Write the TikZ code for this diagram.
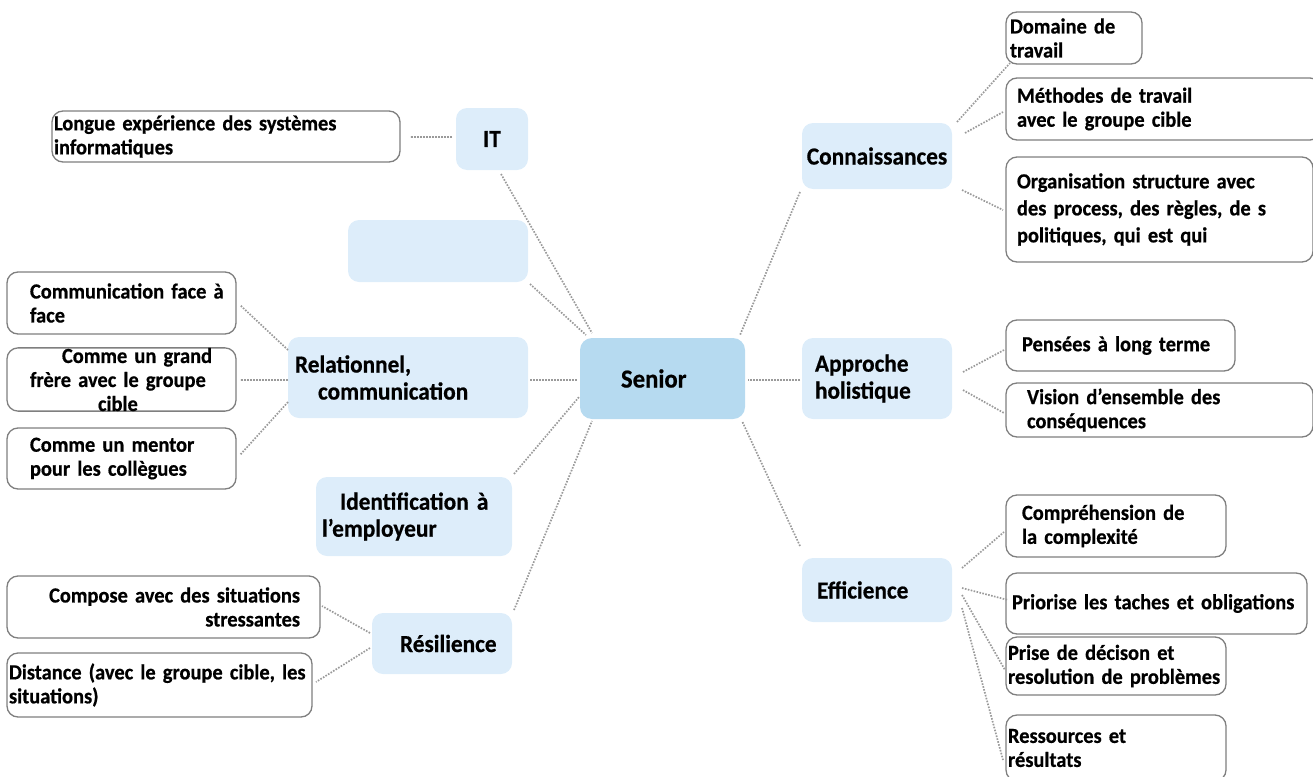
\documentclass[tikz,border=0pt]{standalone}
\usepackage{fontspec}
\setmainfont{Carlito}[FakeStretch=0.95,WordSpace=0.8,BoldFeatures={FakeBold=0.6}]
\usetikzlibrary{calc}
\definecolor{lblue}{HTML}{DDEDFA}
\definecolor{sblue}{HTML}{B6DAF0}
\definecolor{bgray}{HTML}{7F7F7F}
\definecolor{lgray}{HTML}{9A9A9A}
\newcommand{\ml}[1]{\mbox{#1}}
\begin{document}
\begin{tikzpicture}[x=1pt,y=-1pt,
  bluebox/.style={fill=lblue,draw=none,rounded corners=11pt,font=\fontsize{24.5}{27}\selectfont\bfseries,inner sep=0pt},
  seniorbox/.style={fill=sblue,draw=none,rounded corners=12pt,font=\fontsize{26}{30}\selectfont\bfseries,inner sep=0pt},
  wbox/.style={draw=bgray,line width=1.3pt,fill=white,rounded corners=11pt,font=\fontsize{21.5}{24}\selectfont\bfseries,inner ysep=0pt},
  link/.style={draw=lgray,line width=1.7pt,dash pattern=on 1.6pt off 1.4pt}]
\useasboundingbox (0,0) rectangle (1313,776);
% central and first-level nodes
\node[seniorbox,minimum width=165pt,minimum height=81pt,text width=125pt,align=left,inner xsep=20pt] (senior) at (662.5,378.5) {\hspace*{21pt}Senior};
\node[bluebox,minimum width=72pt,minimum height=62pt] (it) at (492,139) {IT};
\node[bluebox,minimum width=180pt,minimum height=62pt] (empty) at (438,251) {};
\node[bluebox,minimum width=240pt,minimum height=81pt,text width=226pt,align=left,inner xsep=7pt] (rel) at (408,377.5) {Relationnel,\\\hspace*{23pt}communication};
\node[bluebox,minimum width=196pt,minimum height=79pt,text width=184pt,align=left,inner xsep=6pt] (ident) at (414,516.5) {\hspace*{18pt}Identification à\\l’employeur};
\node[bluebox,minimum width=140pt,minimum height=61pt,text width=120pt,align=left,inner xsep=10pt] (res) at (442,643.5) {\hspace*{18pt}Résilience};
\node[bluebox,minimum width=150pt,minimum height=66pt] (conn) at (877,156) {Connaissances};
\node[bluebox,minimum width=150pt,minimum height=81pt,text width=124pt,align=left,inner xsep=13pt] (appr) at (877,378.5) {Approche\\holistique};
\node[bluebox,minimum width=150pt,minimum height=64pt,text width=120pt,align=left,inner xsep=15pt] (eff) at (877,590) {Efficience};
% leaf boxes
\node[wbox,minimum width=348pt,minimum height=51pt,inner xsep=2pt,text width=344pt,align=left] (longue) at (226,136.5) {\ml{Longue expérience des systèmes}\\informatiques};
\node[wbox,minimum width=229pt,minimum height=62pt,inner xsep=23pt,text width=183pt,align=left] (face) at (121.5,303) {\ml{Communication face à}\\face};
\node[wbox,minimum width=229pt,minimum height=63pt,inner xsep=23pt,text width=183pt,align=left] (frere) at (121.5,379.5) {\ml{\hspace*{32pt}Comme un grand}\\\ml{frère avec le groupe}\\\hspace*{68pt}cible};
\node[wbox,minimum width=229pt,minimum height=61pt,inner xsep=23pt,text width=183pt,align=left] (mentor) at (121.5,458.5) {\ml{Comme un mentor}\\\ml{pour les collègues}};
\node[wbox,minimum width=313pt,minimum height=62pt,inner xsep=20pt,text width=273pt,align=right] (compose) at (163.5,607) {\ml{Compose avec des situations}\\stressantes};
\node[wbox,minimum width=305pt,minimum height=64pt,inner xsep=2pt,text width=301pt,align=left] (distance) at (159.5,685) {\ml{Distance (avec le groupe cible, les}\\situations)};
\node[wbox,minimum width=136pt,minimum height=52pt,inner xsep=4pt,text width=128pt,align=left] (domaine) at (1074,38) {\ml{Domaine de}\\travail};
\node[wbox,minimum width=315pt,minimum height=62pt,inner xsep=11pt,text width=293pt,align=left] (methodes) at (1163.5,109) {\ml{Méthodes de travail}\\\ml{avec le groupe cible}};
\node[wbox,minimum width=307pt,minimum height=105pt,inner xsep=11pt,text width=285pt,align=left,font=\fontsize{21.5}{27}\selectfont\bfseries] (orga) at (1159.5,209.5) {\ml{Organisation structure avec}\\\ml{des process, des règles, de s}\\\ml{politiques, qui est qui}};
\node[wbox,minimum width=229pt,minimum height=51pt,inner xsep=16pt,text width=197pt,align=left] (pensees) at (1120.5,345.5) {\ml{Pensées à long terme}};
\node[wbox,minimum width=307pt,minimum height=54pt,inner xsep=21pt,text width=265pt,align=left] (vision) at (1159.5,410) {\ml{Vision d’ensemble des}\\conséquences};
\node[wbox,minimum width=220pt,minimum height=62pt,inner xsep=16pt,text width=188pt,align=left] (compr) at (1116,526) {\ml{Compréhension de}\\\ml{la complexité}};
\node[wbox,minimum width=301pt,minimum height=61pt,inner xsep=6pt,text width=289pt,align=left] (prior) at (1156.5,603.5) {\ml{Priorise les taches et obligations}};
\node[wbox,minimum width=220pt,minimum height=58pt,inner xsep=2pt,text width=216pt,align=left] (prise) at (1116,666) {\ml{Prise de décison et}\\\ml{resolution de problèmes}};
\node[wbox,minimum width=220pt,minimum height=66pt,inner xsep=2pt,text width=216pt,align=left] (ress) at (1116,748) {\ml{Ressources et}\\résultats};
% connectors
\draw[link] ($(it)+(9,35)$) -- ($(senior)+(-70.5,-45.5)$);
\draw[link] ($(empty)+(92,33)$) -- ($(senior)+(-76.5,-43.5)$);
\draw[link] ($(rel)+(122,2.5)$) -- ($(senior)+(-85.5,1.5)$);
\draw[link] ($(ident)+(100,-42.5)$) -- ($(senior)+(-83.5,18.5)$);
\draw[link] ($(res)+(72,-33.5)$) -- ($(senior)+(-70.5,42.5)$);
\draw[link] ($(conn)+(-77,36)$) -- ($(senior)+(77.5,-43.5)$);
\draw[link] ($(appr)+(-77,1.5)$) -- ($(senior)+(85.5,1.5)$);
\draw[link] ($(eff)+(-77,-44)$) -- ($(senior)+(79.5,42.5)$);
\draw[link] ($(it)+(-40,-2)$) -- ($(longue)+(184,0.5)$);
\draw[link] ($(rel)+(-120,-27.5)$) -- ($(face)+(118.5,2)$);
\draw[link] ($(rel)+(-120,2.5)$) -- ($(frere)+(118.5,0.5)$);
\draw[link] ($(rel)+(-120,24.5)$) -- ($(mentor)+(118.5,-3.5)$);
\draw[link] ($(res)+(-72,-10.5)$) -- ($(compose)+(158.5,-1)$);
\draw[link] ($(res)+(-72,4.5)$) -- ($(distance)+(156.5,-3)$);
\draw[link] ($(conn)+(80,-34)$) -- ($(domaine)+(-64,25)$);
\draw[link] ($(conn)+(88,-23)$) -- ($(methodes)+(-160.5,3)$);
\draw[link] ($(conn)+(85,34)$) -- ($(orga)+(-156.5,0.5)$);
\draw[link] ($(appr)+(86,-6.5)$) -- ($(pensees)+(-116.5,4.5)$);
\draw[link] ($(appr)+(86,11.5)$) -- ($(vision)+(-155.5,3)$);
\draw[link] ($(eff)+(85,-22)$) -- ($(compr)+(-112,6)$);
\draw[link] ($(eff)+(85,-2)$) -- ($(prior)+(-148.5,-3.5)$);
\draw[link] ($(eff)+(85,5)$) -- ($(prise)+(-111,4)$);
\draw[link] ($(eff)+(85,18)$) -- ($(ress)+(-113,12)$);
\end{tikzpicture}
\end{document}
